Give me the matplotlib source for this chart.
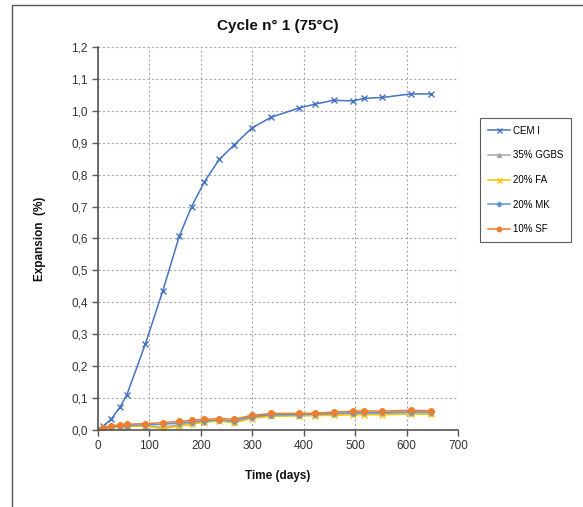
import matplotlib
matplotlib.use("Agg")
import matplotlib.pyplot as plt
from matplotlib.patches import Rectangle
from matplotlib.ticker import FuncFormatter, MultipleLocator

plt.rcParams['font.family'] = ['Liberation Sans', 'DejaVu Sans']

days = [0, 10, 25, 43, 56, 92, 126, 158, 182, 207, 236, 264, 299, 337, 391, 422, 458, 496, 517, 553, 609, 648]
cem1 = [0, 0.012, 0.033, 0.072, 0.11, 0.269, 0.436, 0.607, 0.700, 0.778, 0.848, 0.892, 0.946, 0.980,
        1.009, 1.021, 1.033, 1.031, 1.039, 1.042, 1.053, 1.053]
ggbs = [0, 0.004, 0.008, 0.012, 0.013, 0.014, 0.008, 0.017, 0.022, 0.026, 0.030, 0.026, 0.040, 0.046,
        0.046, 0.048, 0.050, 0.052, 0.052, 0.052, 0.054, 0.053]
fa = [0, 0.003, 0.006, 0.010, 0.012, 0.012, 0.004, 0.012, 0.018, 0.024, 0.028, 0.022, 0.036, 0.043,
      0.044, 0.045, 0.046, 0.048, 0.048, 0.048, 0.050, 0.049]
mk = [0, 0.005, 0.010, 0.013, 0.014, 0.016, 0.018, 0.022, 0.026, 0.029, 0.031, 0.029, 0.042, 0.048,
      0.048, 0.050, 0.052, 0.054, 0.055, 0.055, 0.057, 0.056]
sf = [0, 0.007, 0.013, 0.016, 0.018, 0.020, 0.023, 0.027, 0.031, 0.033, 0.036, 0.034, 0.046, 0.052,
      0.052, 0.053, 0.056, 0.059, 0.060, 0.059, 0.062, 0.060]
labels = ["CEM I", "35% GGBS", "20% FA", "20% MK", "10% SF"]

fig = plt.figure(figsize=(5.83, 5.07), dpi=100)
fig.patches.append(Rectangle((12/583, -0.1), 1.2, 1 - 5/507 + 0.1, transform=fig.transFigure,
                             fill=False, edgecolor='#555555', linewidth=1.0))
ax = fig.add_axes([98/583, 1 - 430/507, 360/583, 383/507])

ax.plot(days, cem1, color='#4472C4', marker='x', markersize=4.5, linewidth=1.1, label=labels[0])
ax.plot(days, ggbs, color='#A5A5A5', marker='^', markersize=3.5, linewidth=1.1, label=labels[1])
ax.plot(days, fa, color='#FFC000', marker='x', markersize=4.5, linewidth=1.1, label=labels[2])
ax.plot(days, mk, color='#5B9BD5', marker='D', markersize=3, linewidth=1.1, label=labels[3])
ax.plot(days, sf, color='#ED7D31', marker='o', markersize=4, linewidth=1.1, label=labels[4])

ax.set_xlim(0, 700)
ax.set_ylim(0, 1.2)
ax.xaxis.set_major_locator(MultipleLocator(100))
ax.yaxis.set_major_locator(MultipleLocator(0.1))
ax.yaxis.set_major_formatter(FuncFormatter(lambda v, p: f"{v:.1f}".replace('.', ',')))
ax.grid(True, color='#AAAAAA', linestyle=(0, (2, 2)), linewidth=0.8)
ax.set_axisbelow(True)
for s in ['top', 'right']:
    ax.spines[s].set_visible(False)
for s in ['left', 'bottom']:
    ax.spines[s].set_color('#555555')
    ax.spines[s].set_linewidth(1.2)
ax.tick_params(direction='out', length=4, width=1, colors='#555555', labelcolor='#333333', labelsize=8.5)

ax.set_title("Cycle n° 1 (75°C)", fontsize=11, fontweight='bold', pad=12, color='#111111')
ax.set_xlabel("Time (days)", fontsize=8.5, fontweight='bold', labelpad=13, color='#111111')
ax.set_ylabel("Expansion  (%)", fontsize=8.5, fontweight='bold', labelpad=18, color='#111111')

leg = fig.legend(loc='upper left', bbox_to_anchor=(480/583, 1 - 118/507), frameon=True, fancybox=False,
                 borderaxespad=0, fontsize=7, handlelength=2.3, labelspacing=1.5, borderpad=0.8,
                 handletextpad=0.3, markerscale=0.8)
leg.get_frame().set_edgecolor('#333333')
leg.get_frame().set_linewidth(0.8)

fig.savefig("out.png", dpi=100)
